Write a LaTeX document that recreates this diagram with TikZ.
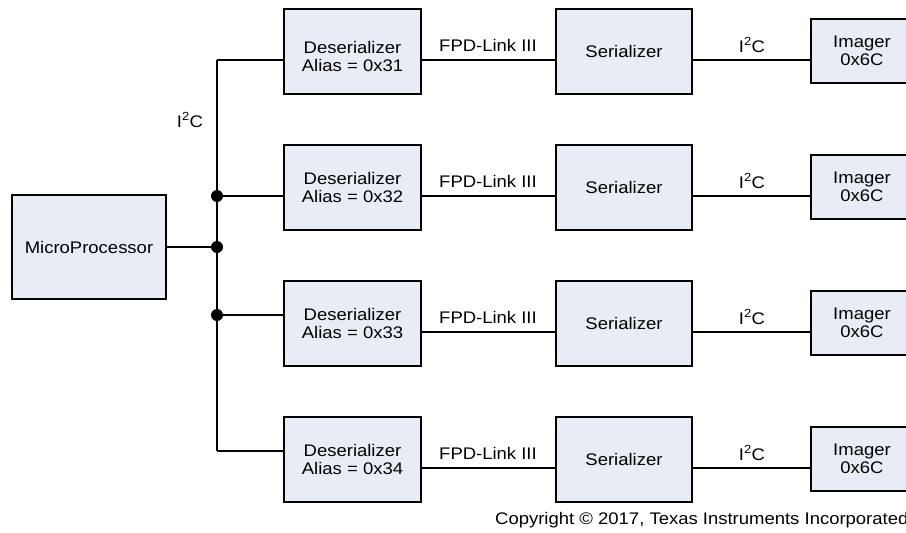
\documentclass[tikz,border=0pt]{standalone}
\usepackage{fontspec}
\setmainfont[FakeStretch=1.1]{Liberation Sans}
\definecolor{boxfill}{RGB}{232,237,245}
\tikzset{
  blk/.style={draw=black, line width=1.6pt, fill=boxfill, rectangle, align=center, inner sep=0pt,
    font=\fontsize{16.8}{17.5}\selectfont},
  conn/.style={line width=1.3pt, black},
  lbl/.style={font=\fontsize{16.8}{17.5}\selectfont, inner sep=0pt},
  jdot/.style={circle, fill=black, inner sep=0pt, minimum size=12pt}
}
\begin{document}
\begin{tikzpicture}[x=1pt,y=-1pt]
\useasboundingbox (0,0) rectangle (906,533);
\clip (0,0) rectangle (906,533);
\node[blk, minimum width=154pt, minimum height=104pt] (mp) at (89,247) {MicroProcessor};
\coordinate (bus) at (217,247);
\foreach \i/\cy/\ly/\ey/\tsh in {1/51.5/60/60/22, 2/187.5/196/196/0, 3/323.5/332/315/0, 4/459.5/468/451/0}{
  \node[blk, minimum width=137pt, minimum height=85pt] (des\i) at (352.5,\cy) {\rule{0pt}{\tsh pt}Deserializer\\Alias = 0x3\i};
  \node[blk, minimum width=136pt, minimum height=85pt] (ser\i) at (624,\cy) {Serializer};
  \node[blk, minimum width=102pt, minimum height=64pt] (img\i) at (862,\cy-0.5) {Imager\\0x6C};
  \coordinate (r\i) at (0,\ly);
  \coordinate (e\i) at (217,\ey);
  \draw[conn] (e\i) -- (des\i.west |- e\i);
  \draw[conn] (des\i.east |- r\i) -- (ser\i.west |- r\i);
  \draw[conn] (ser\i.east |- r\i) -- (img\i.west |- r\i);
  \node[lbl] (fpd\i) at (488,\ly-15) {FPD-Link III};
  \node[lbl] (i2c\i) at (752,\ly-15) {I\textsuperscript{2}C};
}
\draw[conn] (e1) -- (e4);
\draw[conn] (mp.east |- bus) -- (bus);
\node[jdot] (d1) at (e2) {};
\node[jdot] (d2) at (bus) {};
\node[jdot] (d3) at (e3) {};
\node[lbl] (i2cl) at (190,120) {I\textsuperscript{2}C};
\node[lbl, anchor=west] (copy) at (495,520) {Copyright © 2017, Texas Instruments Incorporated};
\end{tikzpicture}
\end{document}
